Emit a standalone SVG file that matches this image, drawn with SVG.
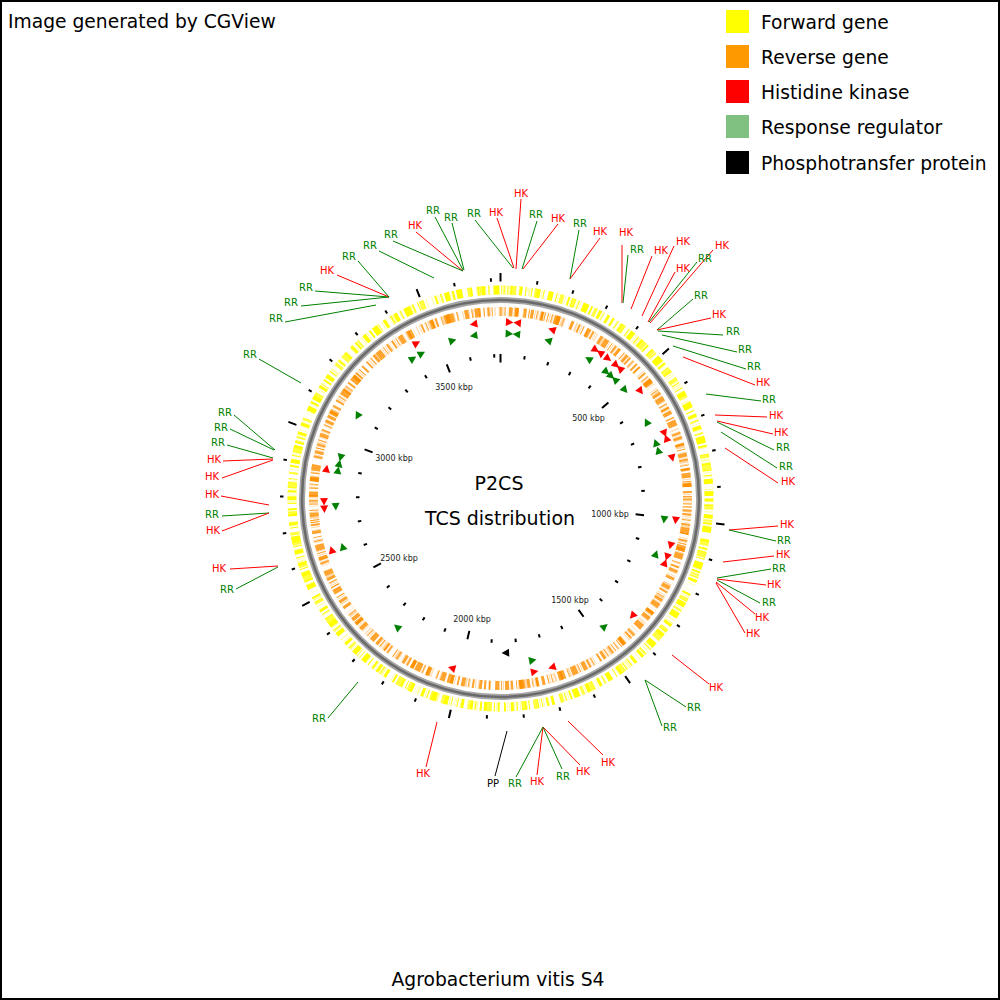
<svg xmlns="http://www.w3.org/2000/svg" xmlns:xlink="http://www.w3.org/1999/xlink" width="1000" height="1000" viewBox="0 0 1000 1000">
<style>
.t{font-family:"DejaVu Sans","Liberation Sans",sans-serif}
.big{font-size:18.7px;fill:#000}
.hk{font-size:10px;fill:#f00;text-anchor:middle}
.rr{font-size:10px;fill:#008000;text-anchor:middle}
.pp{font-size:10px;fill:#000;text-anchor:middle}
.kb{font-size:8px;fill:#222;text-anchor:middle}
.lh{stroke:#f00;stroke-width:1}
.lr{stroke:#008000;stroke-width:1}
.lp{stroke:#000;stroke-width:1}
</style>
<defs>
<polygon id="hkF" points="-3.5,-180.5 -3.5,-172.5 4,-176.5" fill="#f00"/>
<polygon id="hkR" points="3.5,-180.5 3.5,-172.5 -4,-176.5" fill="#f00"/>
<polygon id="rrF" points="-3.5,-169 -3.5,-161 4,-165" fill="#008000"/>
<polygon id="rrR" points="3.5,-169 3.5,-161 -4,-165" fill="#008000"/>
<polygon id="ppF" points="-3.5,-158.5 -3.5,-150.5 4,-154.5" fill="#000"/>
<path id="ts" d="M0,-141 V-144.5 M0,-217 V-220.5" stroke="#000" stroke-width="2"/>
<path id="tm" d="M0,-136 V-144.5 M0,-217 V-225.5" stroke="#000" stroke-width="2"/>
</defs>
<rect x="1" y="1" width="998" height="998" fill="#fff" stroke="#000" stroke-width="2"/>

<g id="title">
<text class="t big" x="8" y="28">Image generated by CGView</text>
<text class="t big" x="498" y="986" text-anchor="middle">Agrobacterium vitis S4</text>
</g>

<g id="legend">
<rect x="726" y="10" width="23" height="23" fill="#ffff00"/>
<text class="t big" x="761" y="28.5">Forward gene</text>
<rect x="726" y="45" width="23" height="23" fill="#ff9900"/>
<text class="t big" x="761" y="64">Reverse gene</text>
<rect x="726" y="80" width="23" height="23" fill="#ff0000"/>
<text class="t big" x="761" y="99">Histidine kinase</text>
<rect x="726" y="115" width="23" height="23" fill="#80c080"/>
<text class="t big" x="761" y="134">Response regulator</text>
<rect x="726" y="151" width="23" height="23" fill="#000"/>
<text class="t big" x="761" y="169.5">Phosphotransfer protein</text>
</g>

<g id="rings" transform="translate(500.5 498.5)" fill="none">
<circle r="208.5" stroke="#ffffa8" stroke-width="9" stroke-dasharray="1 2 1 3 1 2 2 1 1 4 1 1"/>
<circle r="208.5" stroke="#ffff00" stroke-width="9" stroke-dasharray="3 3 2 4 1 3 5 3 2 2 6 3 1 3 3 5 2 2 4 3 1 3 7 2 2 4 1 2 3 6"/>
<circle r="208.5" stroke="#ffff40" stroke-width="9" stroke-dasharray="0 13 4 9 2 21 3 7 5 17 2 11" stroke-dashoffset="5"/>
<circle r="208.5" stroke="#fff" stroke-width="9.5" stroke-dasharray="0 11 2 7 1 15 3 9 1 13 2 8 1 17 4 23"/>
<circle r="187" stroke="#ffd8a8" stroke-width="9" stroke-dasharray="1 2 1 1 1 3 1 2 2 1"/>
<circle r="187" stroke="#ffa42e" stroke-width="9" stroke-dasharray="2 3 1 3 4 2 2 4 1 2 3 2 5 3 1 3 2 2 4 3 1 2 6 3 1 3 2 2 3 5"/>
<circle r="187" stroke="#ff9200" stroke-width="9" stroke-dasharray="0 17 3 23 2 13 4 29 1 19" stroke-dashoffset="9"/>
<circle r="187" stroke="#fff" stroke-width="9.5" stroke-dasharray="0 9 2 13 1 11 3 7 1 15 2 19 4 21"/>
<circle r="198.5" stroke="#a6a6a6" stroke-width="6"/>
<circle r="198.5" stroke="#6a6a6a" stroke-width="2.5"/>
</g>

<g id="ruler" transform="translate(500.5 498.5)">
<use href="#tm" transform="rotate(0)"/>
<use href="#ts" transform="rotate(9.662)"/>
<use href="#ts" transform="rotate(19.324)"/>
<use href="#ts" transform="rotate(28.985)"/>
<use href="#ts" transform="rotate(38.647)"/>
<use href="#tm" transform="rotate(48.309)"/>
<use href="#ts" transform="rotate(57.971)"/>
<use href="#ts" transform="rotate(67.633)"/>
<use href="#ts" transform="rotate(77.294)"/>
<use href="#ts" transform="rotate(86.956)"/>
<use href="#tm" transform="rotate(96.618)"/>
<use href="#ts" transform="rotate(106.28)"/>
<use href="#ts" transform="rotate(115.94)"/>
<use href="#ts" transform="rotate(125.60)"/>
<use href="#ts" transform="rotate(135.27)"/>
<use href="#tm" transform="rotate(144.93)"/>
<use href="#ts" transform="rotate(154.59)"/>
<use href="#ts" transform="rotate(164.25)"/>
<use href="#ts" transform="rotate(173.91)"/>
<use href="#ts" transform="rotate(183.57)"/>
<use href="#tm" transform="rotate(193.24)"/>
<use href="#ts" transform="rotate(202.90)"/>
<use href="#ts" transform="rotate(212.56)"/>
<use href="#ts" transform="rotate(222.22)"/>
<use href="#ts" transform="rotate(231.88)"/>
<use href="#tm" transform="rotate(241.55)"/>
<use href="#ts" transform="rotate(251.21)"/>
<use href="#ts" transform="rotate(260.87)"/>
<use href="#ts" transform="rotate(270.53)"/>
<use href="#ts" transform="rotate(280.19)"/>
<use href="#tm" transform="rotate(289.85)"/>
<use href="#ts" transform="rotate(299.52)"/>
<use href="#ts" transform="rotate(309.18)"/>
<use href="#ts" transform="rotate(318.84)"/>
<use href="#ts" transform="rotate(328.50)"/>
<use href="#tm" transform="rotate(338.16)"/>
<use href="#ts" transform="rotate(347.83)"/>
<use href="#ts" transform="rotate(357.49)"/>
</g>

<g id="ruler-labels" class="t">
<text class="t kb" x="588.5" y="421">500 kbp</text>
<text class="t kb" x="610" y="516.5">1000 kbp</text>
<text class="t kb" x="570" y="602.5">1500 kbp</text>
<text class="t kb" x="472" y="621.5">2000 kbp</text>
<text class="t kb" x="399" y="561">2500 kbp</text>
<text class="t kb" x="394" y="460.5">3000 kbp</text>
<text class="t kb" x="454" y="389.5">3500 kbp</text>
</g>

<g id="center-title">
<text class="t" x="499" y="490" font-size="19" text-anchor="middle">P2CS</text>
<text class="t" x="500" y="525" font-size="19" text-anchor="middle">TCS distribution</text>
</g>

<g id="features" transform="translate(500.5 498.5)">
<g id="hk-features">
<use href="#hkR" transform="rotate(351.3)"/>
<use href="#hkF" transform="rotate(2.9)"/>
<use href="#hkR" transform="rotate(5.5)"/>
<use href="#hkR" transform="rotate(17.0)"/>
<use href="#hkF" transform="rotate(331.6)"/>
<use href="#hkF" transform="rotate(32.6)"/>
<use href="#hkR" transform="rotate(34.4)"/>
<use href="#hkF" transform="rotate(37.5)"/>
<use href="#hkF" transform="rotate(40.9)"/>
<use href="#hkR" transform="rotate(42.6)"/>
<use href="#hkF" transform="rotate(52.5)"/>
<use href="#hkF" transform="rotate(68.3)"/>
<use href="#hkR" transform="rotate(70.1)"/>
<use href="#hkF" transform="rotate(76.7)"/>
<use href="#hkF" transform="rotate(97.1)"/>
<use href="#hkF" transform="rotate(105.4)"/>
<use href="#hkF" transform="rotate(109.3)"/>
<use href="#hkR" transform="rotate(111.4)"/>
<use href="#hkF" transform="rotate(131.6)"/>
<use href="#hkF" transform="rotate(163.0)"/>
<use href="#hkR" transform="rotate(168.9)"/>
<use href="#hkF" transform="rotate(196.0)"/>
<use href="#hkF" transform="rotate(253.0)"/>
<use href="#hkR" transform="rotate(266.6)"/>
<use href="#hkR" transform="rotate(269.0)"/>
<use href="#hkF" transform="rotate(279.7)"/>
</g>
<g id="rr-features">
<use href="#rrR" transform="rotate(350.7)"/>
<use href="#rrF" transform="rotate(343.1)"/>
<use href="#rrF" transform="rotate(3.0)"/>
<use href="#rrR" transform="rotate(5.6)"/>
<use href="#rrR" transform="rotate(16.8)"/>
<use href="#rrF" transform="rotate(331.4)"/>
<use href="#rrF" transform="rotate(327.9)"/>
<use href="#rrR" transform="rotate(32.3)"/>
<use href="#rrF" transform="rotate(39.9)"/>
<use href="#rrF" transform="rotate(42.1)"/>
<use href="#rrR" transform="rotate(44.0)"/>
<use href="#rrF" transform="rotate(48.9)"/>
<use href="#rrR" transform="rotate(62.4)"/>
<use href="#rrR" transform="rotate(70.3)"/>
<use href="#rrR" transform="rotate(73.1)"/>
<use href="#rrF" transform="rotate(97.3)"/>
<use href="#rrR" transform="rotate(109.7)"/>
<use href="#rrR" transform="rotate(140.9)"/>
<use href="#rrR" transform="rotate(168.8)"/>
<use href="#rrF" transform="rotate(218.8)"/>
<use href="#rrF" transform="rotate(253.0)"/>
<use href="#rrR" transform="rotate(267.2)"/>
<use href="#rrF" transform="rotate(279.8)"/>
<use href="#rrF" transform="rotate(282.2)"/>
<use href="#rrR" transform="rotate(284.4)"/>
<use href="#rrR" transform="rotate(300.0)"/>
</g>
<g id="pp-features">
<use href="#ppF" transform="rotate(178.1)"/>
</g>
</g>

<g id="connectors">
<line class="lh" x1="416" y1="232" x2="463" y2="271"/>
<line class="lr" x1="435" y1="217" x2="463" y2="270"/>
<line class="lr" x1="452" y1="223" x2="464" y2="270"/>
<line class="lr" x1="393" y1="241" x2="463" y2="271"/>
<line class="lr" x1="475" y1="220" x2="513" y2="268"/>
<line class="lh" x1="497" y1="218" x2="514" y2="268"/>
<line class="lh" x1="521" y1="199" x2="516" y2="269"/>
<line class="lr" x1="537" y1="221" x2="522" y2="269"/>
<line class="lh" x1="558" y1="224" x2="523" y2="269"/>
<line class="lr" x1="579" y1="230" x2="570" y2="279"/>
<line class="lh" x1="600" y1="238" x2="570" y2="279"/>
<line class="lh" x1="622" y1="245" x2="622" y2="303"/>
<line class="lr" x1="628" y1="255" x2="623" y2="303"/>
<line class="lh" x1="652" y1="256" x2="631" y2="309"/>
<line class="lh" x1="674" y1="246" x2="642" y2="316"/>
<line class="lh" x1="675" y1="272" x2="648" y2="322"/>
<line class="lr" x1="697" y1="262" x2="649" y2="322"/>
<line class="lh" x1="713" y1="250" x2="650" y2="323"/>
<line class="lr" x1="693" y1="299" x2="657" y2="330"/>
<line class="lh" x1="711" y1="318" x2="657" y2="330"/>
<line class="lr" x1="723" y1="335" x2="658" y2="331"/>
<line class="lr" x1="737" y1="352" x2="662" y2="335"/>
<line class="lr" x1="746" y1="369" x2="673" y2="346"/>
<line class="lh" x1="755" y1="385" x2="683" y2="357"/>
<line class="lr" x1="761" y1="401" x2="706" y2="394"/>
<line class="lh" x1="767" y1="417" x2="715" y2="415"/>
<line class="lh" x1="773" y1="434" x2="717" y2="421"/>
<line class="lr" x1="774" y1="450" x2="717" y2="422"/>
<line class="lr" x1="777" y1="468" x2="721" y2="432"/>
<line class="lh" x1="778" y1="483" x2="725" y2="448"/>
<line class="lh" x1="778" y1="526" x2="729" y2="530"/>
<line class="lr" x1="776" y1="541" x2="729" y2="530"/>
<line class="lh" x1="774" y1="556" x2="723" y2="562"/>
<line class="lr" x1="771" y1="569" x2="717" y2="578"/>
<line class="lh" x1="766" y1="585" x2="717" y2="579"/>
<line class="lr" x1="760" y1="603" x2="717" y2="580"/>
<line class="lh" x1="755" y1="614" x2="716" y2="582"/>
<line class="lh" x1="745" y1="633" x2="716" y2="583"/>
<line class="lh" x1="709" y1="684" x2="672" y2="655"/>
<line class="lr" x1="686" y1="707" x2="645" y2="680"/>
<line class="lr" x1="662" y1="726" x2="645" y2="680"/>
<line class="lh" x1="603" y1="755" x2="568" y2="721"/>
<line class="lh" x1="580" y1="765" x2="543" y2="727"/>
<line class="lr" x1="562" y1="769" x2="543" y2="727"/>
<line class="lh" x1="537" y1="775" x2="543" y2="727"/>
<line class="lr" x1="516" y1="777" x2="543" y2="727"/>
<line class="lp" x1="495" y1="776" x2="507" y2="731"/>
<line class="lh" x1="426" y1="767" x2="437" y2="722"/>
<line class="lr" x1="328" y1="718" x2="358" y2="682"/>
<line class="lh" x1="230" y1="569" x2="278" y2="566"/>
<line class="lr" x1="236" y1="589" x2="278" y2="567"/>
<line class="lh" x1="221" y1="496" x2="269" y2="505"/>
<line class="lr" x1="222" y1="516" x2="269" y2="513"/>
<line class="lh" x1="222" y1="531" x2="269" y2="513"/>
<line class="lr" x1="234" y1="415" x2="275" y2="450"/>
<line class="lr" x1="230" y1="429" x2="274" y2="450"/>
<line class="lr" x1="227" y1="445" x2="273" y2="458"/>
<line class="lh" x1="223" y1="461" x2="273" y2="459"/>
<line class="lh" x1="222" y1="478" x2="273" y2="460"/>
<line class="lr" x1="259" y1="359" x2="301" y2="383"/>
<line class="lr" x1="285" y1="322" x2="376" y2="305"/>
<line class="lr" x1="301" y1="306" x2="389" y2="297"/>
<line class="lr" x1="315" y1="291" x2="389" y2="297"/>
<line class="lh" x1="337" y1="275" x2="389" y2="297"/>
<line class="lr" x1="358" y1="261" x2="389" y2="297"/>
<line class="lr" x1="379" y1="251" x2="434" y2="278"/>
</g>

<g id="labels" class="t">
<text class="t hk" x="415" y="228.6">HK</text>
<text class="t rr" x="433" y="213.6">RR</text>
<text class="t rr" x="451" y="220.6">RR</text>
<text class="t rr" x="391" y="237.6">RR</text>
<text class="t rr" x="474" y="216.6">RR</text>
<text class="t hk" x="496" y="215.6">HK</text>
<text class="t hk" x="521" y="196.6">HK</text>
<text class="t rr" x="536" y="217.6">RR</text>
<text class="t hk" x="558" y="221.6">HK</text>
<text class="t rr" x="580" y="226.6">RR</text>
<text class="t hk" x="600" y="234.6">HK</text>
<text class="t hk" x="626" y="235.6">HK</text>
<text class="t rr" x="637" y="252.6">RR</text>
<text class="t hk" x="661" y="253.6">HK</text>
<text class="t hk" x="683" y="244.6">HK</text>
<text class="t hk" x="683" y="271.6">HK</text>
<text class="t rr" x="705" y="261.6">RR</text>
<text class="t hk" x="722" y="248.6">HK</text>
<text class="t rr" x="701" y="298.6">RR</text>
<text class="t hk" x="719" y="317.6">HK</text>
<text class="t rr" x="733" y="334.6">RR</text>
<text class="t rr" x="745" y="352.6">RR</text>
<text class="t rr" x="754" y="369.6">RR</text>
<text class="t hk" x="763" y="385.6">HK</text>
<text class="t rr" x="769" y="402.6">RR</text>
<text class="t hk" x="776" y="418.6">HK</text>
<text class="t hk" x="781" y="435.6">HK</text>
<text class="t rr" x="783" y="450.6">RR</text>
<text class="t rr" x="786" y="469.6">RR</text>
<text class="t hk" x="788" y="484.6">HK</text>
<text class="t hk" x="787" y="527.6">HK</text>
<text class="t rr" x="784" y="543.6">RR</text>
<text class="t hk" x="783" y="557.6">HK</text>
<text class="t rr" x="779" y="571.6">RR</text>
<text class="t hk" x="774" y="587.6">HK</text>
<text class="t rr" x="769" y="605.6">RR</text>
<text class="t hk" x="762" y="620.6">HK</text>
<text class="t hk" x="753" y="636.6">HK</text>
<text class="t hk" x="716" y="690.6">HK</text>
<text class="t rr" x="694" y="710.6">RR</text>
<text class="t rr" x="670" y="730.6">RR</text>
<text class="t hk" x="608" y="765.6">HK</text>
<text class="t hk" x="583" y="774.6">HK</text>
<text class="t rr" x="563" y="779.6">RR</text>
<text class="t hk" x="537" y="784.6">HK</text>
<text class="t rr" x="515" y="786.6">RR</text>
<text class="t pp" x="493" y="786.6">PP</text>
<text class="t hk" x="423" y="776.6">HK</text>
<text class="t rr" x="319" y="721.6">RR</text>
<text class="t hk" x="219" y="571.6">HK</text>
<text class="t rr" x="227" y="592.6">RR</text>
<text class="t hk" x="212" y="497.6">HK</text>
<text class="t rr" x="212" y="517.6">RR</text>
<text class="t hk" x="213" y="533.6">HK</text>
<text class="t rr" x="225" y="415.6">RR</text>
<text class="t rr" x="221" y="430.6">RR</text>
<text class="t rr" x="218" y="445.6">RR</text>
<text class="t hk" x="214" y="462.6">HK</text>
<text class="t hk" x="212" y="479.6">HK</text>
<text class="t rr" x="250" y="357.6">RR</text>
<text class="t rr" x="276" y="321.6">RR</text>
<text class="t rr" x="291" y="305.6">RR</text>
<text class="t rr" x="306" y="290.6">RR</text>
<text class="t hk" x="327" y="273.6">HK</text>
<text class="t rr" x="349" y="259.6">RR</text>
<text class="t rr" x="370" y="248.6">RR</text>
</g>
</svg>
